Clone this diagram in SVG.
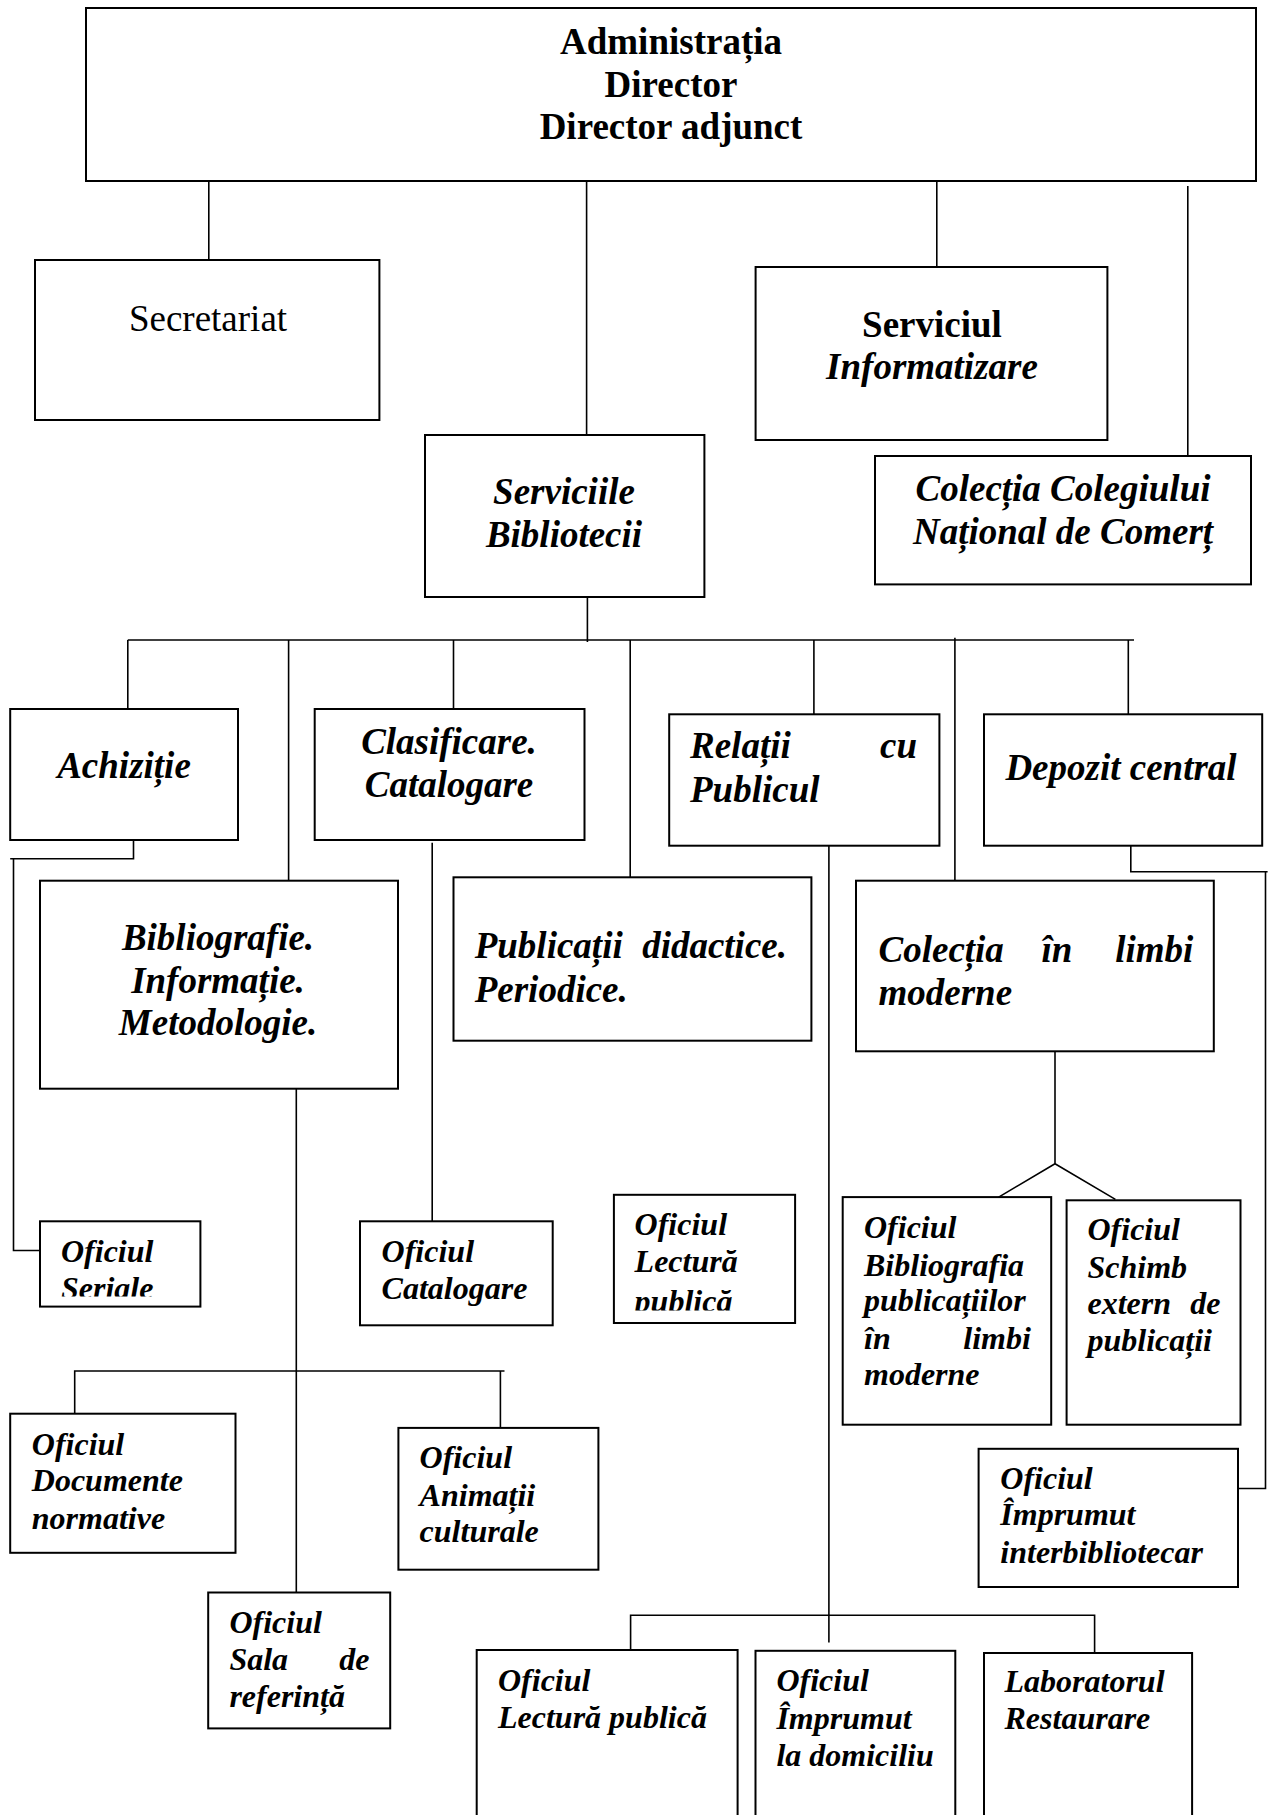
<svg xmlns="http://www.w3.org/2000/svg" width="1274" height="1815" viewBox="0 0 1274 1815">
<style>
.box{fill:#fff;stroke:#000;stroke-width:2}
.ln{fill:none;stroke:#000;stroke-width:1.6}
text{font-family:"Liberation Serif","Times New Roman",serif;fill:#000}
.b{font-size:37px;font-weight:bold}
.r{font-size:37px}
.bi{font-size:37px;font-weight:bold;font-style:italic}
.of{font-size:32px;font-weight:bold;font-style:italic}
.m{text-anchor:middle}
.e{text-anchor:end}
</style>
<defs>
<clipPath id="clipSer"><rect x="40" y="1221" width="161" height="75.5"/></clipPath>
<clipPath id="clipLec"><rect x="613" y="1194" width="183" height="116.5"/></clipPath>
</defs>
<rect width="1274" height="1815" fill="#fff"/>
<g id="connectors">
<path class="ln" d="M208.8 181V261"/>
<path class="ln" d="M586.6 182V436"/>
<path class="ln" d="M936.8 180V268"/>
<path class="ln" d="M1187.8 186V459"/>
<path class="ln" d="M587.4 597V642"/>
<path class="ln" d="M127.8 640H1134"/>
<path class="ln" d="M127.8 640V710"/>
<path class="ln" d="M288.6 640V880"/>
<path class="ln" d="M453.5 640V709"/>
<path class="ln" d="M630.2 640V877"/>
<path class="ln" d="M813.9 640V714"/>
<path class="ln" d="M954.9 637.7V880.7"/>
<path class="ln" d="M1128.3 640V714"/>
<path class="ln" d="M133.5 840V858.7H10.2"/>
<path class="ln" d="M13.5 858.7V1250.5H40"/>
<path class="ln" d="M432.2 842.7V1221.3"/>
<path class="ln" d="M828.9 845.7V1642.6"/>
<path class="ln" d="M296.3 1088.7V1592.5"/>
<path class="ln" d="M74.7 1414.6V1371H504.5"/>
<path class="ln" d="M500.4 1371V1429"/>
<path class="ln" d="M1130.8 845.7V871.7H1267.6"/>
<path class="ln" d="M1265.5 871.7V1488.5H1238"/>
<path class="ln" d="M1055 1051.3V1163.8"/>
<path class="ln" d="M998.7 1197.1L1055 1163.8L1115.4 1199.4"/>
<path class="ln" d="M630.6 1651V1615.3H1094.6V1654"/>
</g>
<g id="n-admin">
<rect class="box" x="86" y="8" width="1170" height="173"/>
<text class="b m" x="671" y="54">Administrația</text>
<text class="b m" x="671" y="97">Director</text>
<text class="b m" x="671" y="139">Director adjunct</text>
</g>
<g id="n-secretariat">
<rect class="box" x="35" y="260" width="344.4" height="160"/>
<text class="r m" x="208" y="331">Secretariat</text>
</g>
<g id="n-informatizare">
<rect class="box" x="755.6" y="267" width="351.8" height="173"/>
<text class="b m" x="932" y="337">Serviciul</text>
<text class="bi m" x="932" y="379">Informatizare</text>
</g>
<g id="n-serviciile">
<rect class="box" x="425" y="435" width="279.4" height="162"/>
<text class="bi m" x="564" y="504">Serviciile</text>
<text class="bi m" x="564" y="547">Bibliotecii</text>
</g>
<g id="n-colegiu">
<rect class="box" x="875" y="456" width="376" height="128.4"/>
<text class="bi m" x="1063" y="501">Colecția Colegiului</text>
<text class="bi m" x="1063" y="544">Național de Comerț</text>
</g>
<g id="n-achizitie">
<rect class="box" x="10.2" y="709" width="227.8" height="131"/>
<text class="bi m" x="124" y="778">Achiziție</text>
</g>
<g id="n-clasificare">
<rect class="box" x="314.7" y="709" width="269.8" height="131"/>
<text class="bi m" x="449" y="754">Clasificare.</text>
<text class="bi m" x="449" y="797">Catalogare</text>
</g>
<g id="n-relatii">
<rect class="box" x="669.2" y="714.3" width="270.2" height="131.4"/>
<text class="bi" x="690" y="758">Relații</text>
<text class="bi e" x="917" y="758">cu</text>
<text class="bi" x="690" y="802">Publicul</text>
</g>
<g id="n-depozit">
<rect class="box" x="984" y="714.3" width="278.2" height="131.4"/>
<text class="bi m" x="1121" y="780">Depozit central</text>
</g>
<g id="n-bibliografie">
<rect class="box" x="40" y="880.7" width="358" height="208"/>
<text class="bi m" x="218" y="950">Bibliografie.</text>
<text class="bi m" x="218" y="993">Informație.</text>
<text class="bi m" x="218" y="1035">Metodologie.</text>
</g>
<g id="n-publicatii">
<rect class="box" x="453.5" y="877.3" width="357.9" height="163.4"/>
<text class="bi" x="474.7" y="958">Publicații</text>
<text class="bi e" x="787" y="958">didactice.</text>
<text class="bi" x="474.7" y="1002">Periodice.</text>
</g>
<g id="n-colectia-limbi">
<rect class="box" x="856" y="880.7" width="357.8" height="170.6"/>
<text class="bi" x="878.5" y="962">Colecția</text>
<text class="bi m" x="1057" y="962">în</text>
<text class="bi e" x="1193.4" y="962">limbi</text>
<text class="bi" x="878.5" y="1005">moderne</text>
</g>
<g id="n-seriale">
<rect class="box" x="40" y="1221.3" width="160.4" height="85.3"/>
<g clip-path="url(#clipSer)">
<text class="of" x="61" y="1262">Oficiul</text>
<text class="of" x="61" y="1299">Seriale</text>
</g>
</g>
<g id="n-catalogare">
<rect class="box" x="360" y="1221.3" width="192.7" height="104"/>
<text class="of" x="381.6" y="1262">Oficiul</text>
<text class="of" x="381.6" y="1299">Catalogare</text>
</g>
<g id="n-lectura1">
<rect class="box" x="613.9" y="1194.8" width="181.2" height="128.2"/>
<g clip-path="url(#clipLec)">
<text class="of" x="634.6" y="1235.4">Oficiul</text>
<text class="of" x="634.6" y="1272.4">Lectură</text>
<text class="of" x="634.6" y="1312">publică</text>
</g>
</g>
<g id="n-bibliografia-limbi">
<rect class="box" x="842.7" y="1197.1" width="208.5" height="227.6"/>
<text class="of" x="864" y="1237.7">Oficiul</text>
<text class="of" x="864" y="1275.6">Bibliografia</text>
<text class="of" x="864" y="1311.1">publicațiilor</text>
<text class="of" x="864" y="1348.5">în</text>
<text class="of e" x="1030.8" y="1348.5">limbi</text>
<text class="of" x="864" y="1385">moderne</text>
</g>
<g id="n-schimb">
<rect class="box" x="1066.6" y="1200.3" width="173.9" height="224.4"/>
<text class="of" x="1087.5" y="1240">Oficiul</text>
<text class="of" x="1087.5" y="1277.8">Schimb</text>
<text class="of" x="1087.5" y="1314.3">extern</text>
<text class="of e" x="1220.5" y="1314.3">de</text>
<text class="of" x="1087.5" y="1350.8">publicații</text>
</g>
<g id="n-interbibliotecar">
<rect class="box" x="978.6" y="1448.8" width="259.4" height="138.2"/>
<text class="of" x="1000.3" y="1489">Oficiul</text>
<text class="of" x="1000.3" y="1524.5">Împrumut</text>
<text class="of" x="1000.3" y="1562.8">interbibliotecar</text>
</g>
<g id="n-documente">
<rect class="box" x="10.2" y="1413.7" width="225.3" height="139.1"/>
<text class="of" x="31.8" y="1454.8">Oficiul</text>
<text class="of" x="31.8" y="1490.8">Documente</text>
<text class="of" x="31.8" y="1528.6">normative</text>
</g>
<g id="n-animatii">
<rect class="box" x="398.4" y="1427.9" width="200" height="141.8"/>
<text class="of" x="419.6" y="1468.4">Oficiul</text>
<text class="of" x="419.6" y="1505.8">Animații</text>
<text class="of" x="419.6" y="1542.3">culturale</text>
</g>
<g id="n-sala">
<rect class="box" x="208.2" y="1592.5" width="182" height="135.9"/>
<text class="of" x="229.4" y="1632.6">Oficiul</text>
<text class="of" x="229.4" y="1670">Sala</text>
<text class="of e" x="369.4" y="1670">de</text>
<text class="of" x="229.4" y="1706.5">referință</text>
</g>
<g id="n-lectura2">
<rect class="box" x="476.7" y="1650" width="260.9" height="200"/>
<text class="of" x="498" y="1690.5">Oficiul</text>
<text class="of" x="498" y="1728.4">Lectură publică</text>
</g>
<g id="n-domiciliu">
<rect class="box" x="755.5" y="1650.8" width="199.8" height="200"/>
<text class="of" x="776.4" y="1690.5">Oficiul</text>
<text class="of" x="776.4" y="1729.3">Împrumut</text>
<text class="of" x="776.4" y="1765.8">la domiciliu</text>
</g>
<g id="n-laborator">
<rect class="box" x="984" y="1653" width="208.1" height="200"/>
<text class="of" x="1004.5" y="1692">Laboratorul</text>
<text class="of" x="1004.5" y="1729.3">Restaurare</text>
</g>
</svg>
